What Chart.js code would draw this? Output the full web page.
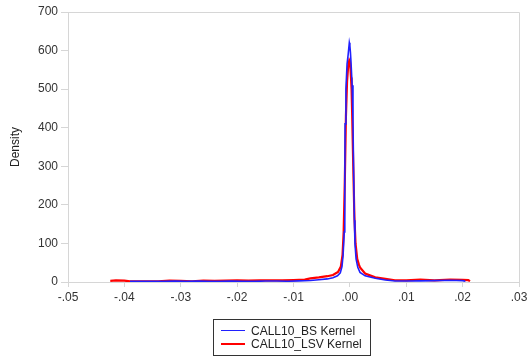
<!DOCTYPE html>
<html>
<head>
<meta charset="utf-8">
<script src="https://cdn.jsdelivr.net/npm/chart.js@4/dist/chart.umd.min.js"></script>
<style>
  html, body { margin: 0; padding: 0; background: #fff; }
  #wrap { position: relative; width: 527px; height: 358px; }
  #legend { position: absolute; left: 213px; top: 319px; width: 156px; height: 35px;
    border: 1px solid #333; font-family: "Liberation Sans", Arial, sans-serif; font-size: 12px; color: #222; }
  .item { position: absolute; left: 0; height: 14px; line-height: 14px; white-space: nowrap; }
  .swatch { position: absolute; left: 7px; top: 6px; width: 24px; }
  .label { position: absolute; left: 37px; top: 0; }
</style>
</head>
<body>
<div id="wrap">
  <canvas id="c" width="527" height="358"></canvas>
  <div id="legend"></div>
</div>
<script>
// ---- data ----
const seriesNames = ["CALL10_BS Kernel", "CALL10_LSV Kernel"];

const bsX = [-0.0390, -0.0360, -0.0330, -0.0310, -0.0290, -0.0270, -0.0250, -0.0230, -0.0210, -0.0190,
  -0.0170, -0.0150, -0.0130, -0.0110, -0.0090, -0.0070, -0.0055, -0.0040, -0.0030, -0.0022,
  -0.0017, -0.0014, -0.0012, -0.0010, -0.0009, -0.00085, -0.0007, -0.0005, -0.0003, -0.0001,
  0.0000, 0.0001, 0.0002, 0.0004, 0.00055, 0.00065, 0.0008, 0.0009, 0.0011, 0.0014,
  0.0018, 0.0027, 0.0045, 0.0063, 0.0080, 0.0100, 0.0125, 0.0150, 0.0178, 0.0200, 0.0205];
const bsY = [2.0, 1.5, 1.8, 2.5, 1.5, 2.2, 2.0, 1.5, 2.3, 2.0,
  1.5, 2.5, 2.5, 2.0, 2.8, 4.0, 6.0, 8.0, 11, 16,
  24, 40, 70, 130, 250, 410, 500, 565, 590, 620,
  612, 595, 570, 510, 420, 300, 160, 100, 60, 38,
  25, 16, 9.5, 5, 2.6, 2.5, 3, 3.5, 4.5, 3.5, 2];

const lsvX = [-0.0425, -0.0415, -0.0400, -0.0390, -0.0370, -0.0340, -0.0320, -0.0300, -0.0280, -0.0260,
  -0.0240, -0.0220, -0.0200, -0.0180, -0.0160, -0.0140, -0.0120, -0.0100, -0.0080, -0.0070,
  -0.0055, -0.0040, -0.0030, -0.0021, -0.0016, -0.0013, -0.0011, -0.0009, -0.0007, -0.0005,
  -0.0003, -0.0001, 0.0000, 0.0001, 0.0002, 0.0003, 0.0004, 0.0006, 0.0008, 0.0010,
  0.0013, 0.0016, 0.0018, 0.0027, 0.0045, 0.0063, 0.0080, 0.0100, 0.0125, 0.0150,
  0.0178, 0.0200, 0.0210, 0.0213];
const lsvY = [3.0, 4.0, 3.5, 1.5, 1.5, 2.0, 3.5, 3.0, 2.0, 3.5,
  3.0, 3.5, 4.0, 3.5, 4.0, 4.0, 4.0, 5.0, 6.0, 9.5,
  12, 15, 18, 26, 40, 70, 130, 260, 430, 520,
  560, 575, 572, 555, 530, 500, 440, 300, 170, 100,
  60, 45, 38, 22, 12, 8, 4.5, 4.0, 6, 4,
  6, 5.5, 5, 2];

const xTicks = [-0.05, -0.04, -0.03, -0.02, -0.01, 0.00, 0.01, 0.02, 0.03];
const yTicks = [0, 100, 200, 300, 400, 500, 600, 700];
// --------------------------------------

const colors = ["#2020ff", "#ff0000"];
const widths = [1.6, 2.2];

function pts(xs, ys) { return xs.map((x, i) => ({ x: x, y: ys[i] })); }

const fontFam = '"Liberation Sans", Arial, sans-serif';
const gridCol = '#d6d6d6';

const framePlugin = {
  id: 'frame',
  beforeDatasetsDraw(chart) {
    const a = chart.chartArea, ctx = chart.ctx;
    ctx.save();
    ctx.strokeStyle = gridCol;
    ctx.lineWidth = 1;
    ctx.beginPath();
    ctx.moveTo(a.left, a.top + 0.5);
    ctx.lineTo(a.right + 0.5, a.top + 0.5);
    ctx.lineTo(a.right + 0.5, a.bottom);
    ctx.stroke();
    ctx.restore();
  }
};

function fmtX(v) {
  const r = Math.round(v * 100) / 100;
  const s = Math.abs(r).toFixed(2).replace(/^0/, '');
  return (r < 0 ? '-' : '') + s;
}

const chart = new Chart(document.getElementById('c'), {
  type: 'line',
  data: {
    datasets: [
      { label: seriesNames[0], data: pts(bsX, bsY), borderColor: colors[0], borderWidth: widths[0],
        pointRadius: 0, fill: false, tension: 0 },
      { label: seriesNames[1], data: pts(lsvX, lsvY), borderColor: colors[1], borderWidth: widths[1],
        pointRadius: 0, fill: false, tension: 0 }
    ]
  },
  options: {
    responsive: false,
    animation: false,
    devicePixelRatio: 1,
    layout: { padding: { left: 0, right: 8, top: 12, bottom: 0 } },
    plugins: { legend: { display: false }, tooltip: { enabled: false } },
    scales: {
      x: {
        type: 'linear',
        min: -0.05, max: 0.03,
        afterBuildTicks(scale) { scale.ticks = xTicks.map(v => ({ value: v })); },
        afterFit(scale) { scale.height = 76; scale.paddingRight = 0; scale.paddingLeft = 0; },
        grid: { drawOnChartArea: false, drawTicks: true, tickLength: 5, color: gridCol, tickColor: gridCol },
        border: { display: true, color: gridCol },
        ticks: { padding: 3, color: '#333', font: { family: fontFam, size: 12 }, callback: v => fmtX(v), maxRotation: 0, autoSkip: false }
      },
      y: {
        type: 'linear',
        min: 0, max: 700,
        afterBuildTicks(scale) { scale.ticks = yTicks.map(v => ({ value: v })); },
        afterFit(scale) { scale.width = 68; scale.paddingTop = 0; scale.paddingBottom = 0; },
        grid: { drawOnChartArea: false, drawTicks: true, tickLength: 7, color: gridCol, tickColor: gridCol },
        border: { display: true, color: gridCol },
        title: { display: true, text: 'Density', color: '#222', font: { family: fontFam, size: 12 }, padding: { top: 8, bottom: 0 } },
        ticks: { padding: 3, color: '#333', font: { family: fontFam, size: 12 } }
      }
    }
  },
  plugins: [framePlugin]
});

// HTML legend built from the datasets
const leg = document.getElementById('legend');
chart.data.datasets.forEach((ds, i) => {
  const it = document.createElement('div');
  it.className = 'item';
  it.style.top = (4 + i * 13) + 'px';
  const sw = document.createElement('div');
  sw.className = 'swatch';
  sw.style.borderTop = (i === 0 ? 1.5 : 2.5) + 'px solid ' + ds.borderColor;
  const lb = document.createElement('span');
  lb.className = 'label';
  lb.textContent = ds.label;
  it.appendChild(sw); it.appendChild(lb);
  leg.appendChild(it);
});
</script>
</body>
</html>
